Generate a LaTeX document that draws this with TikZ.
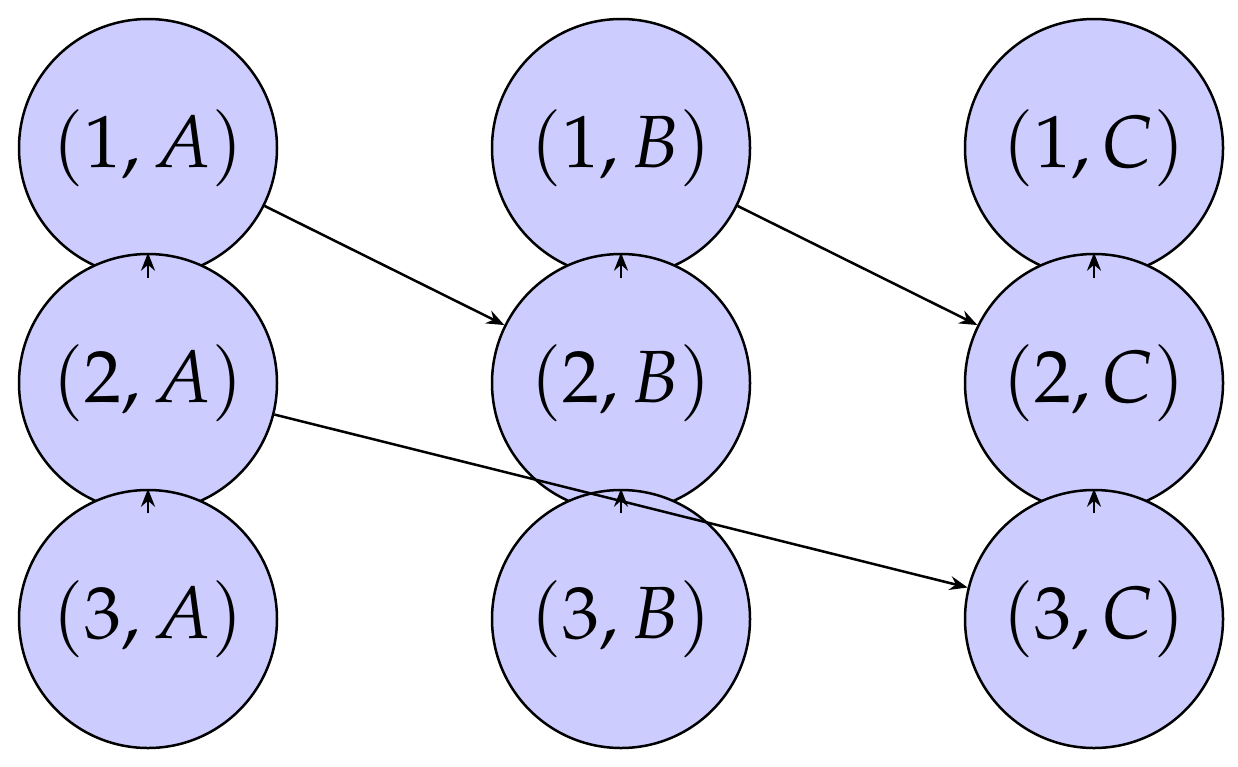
\documentclass[tikz,border=0pt]{standalone}
\usepackage{mathpazo}
\usetikzlibrary{arrows.meta}
\begin{document}
\begin{tikzpicture}[x=1pt,y=-1pt,
  st/.style={circle,draw=black,fill=blue!20,line width=2.5pt,minimum size=258pt,inner sep=0pt,font=\fontsize{74}{80}\selectfont},
  ar/.style={-{Stealth[length=18pt,width=14pt,inset=6pt]},line width=2.5pt}]
\useasboundingbox (0,0) rectangle (1238,766);
\node[st] (1A) at (148,148) {$(1,A)$};
\node[st] (2A) at (148,383) {$(2,A)$};
\node[st] (3A) at (148,619) {$(3,A)$};
\node[st] (1B) at (621,148) {$(1,B)$};
\node[st] (2B) at (621,383) {$(2,B)$};
\node[st] (3B) at (621,619) {$(3,B)$};
\node[st] (1C) at (1094,148) {$(1,C)$};
\node[st] (2C) at (1094,383) {$(2,C)$};
\node[st] (3C) at (1094,619) {$(3,C)$};
\draw[ar] (1A) -- (2A);
\draw[ar] (2A) -- (3A);
\draw[ar] (1B) -- (2B);
\draw[ar] (2B) -- (3B);
\draw[ar] (1C) -- (2C);
\draw[ar] (2C) -- (3C);
\draw[ar] (1A) -- (2B);
\draw[ar] (1B) -- (2C);
\draw[ar] (2A) -- (3C);
\end{tikzpicture}
\end{document}
